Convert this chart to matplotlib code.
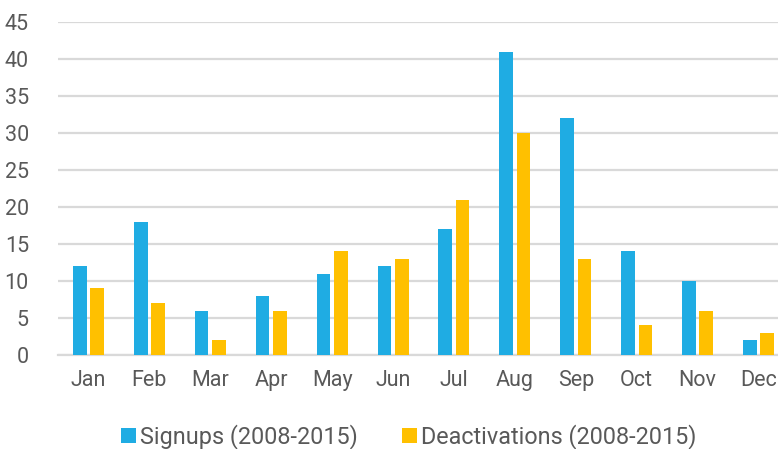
import matplotlib
matplotlib.use("Agg")
import matplotlib.pyplot as plt
import numpy as np

months = ["Jan", "Feb", "Mar", "Apr", "May", "Jun", "Jul", "Aug", "Sep", "Oct", "Nov", "Dec"]
signups = [12, 18, 6, 8, 11, 12, 17, 41, 32, 14, 10, 2]
deactivations = [9, 7, 2, 6, 14, 13, 21, 30, 13, 4, 6, 3]
yticks = [0, 5, 10, 15, 20, 25, 30, 35, 40, 45]

blue = "#1FACE3"
gold = "#FFC000"
text_col = "#595959"
grid_col = "#D9D9D9"

plt.rcParams["font.family"] = ["Roboto", "DejaVu Sans"]

fig = plt.figure(figsize=(7.78, 4.49), dpi=100)
ax = fig.add_axes([58 / 778, 94 / 449, (789 - 58) / 778, (355 - 22) / 449])

x = np.arange(len(months))
w = 0.225
gap = 0.03
ax.bar(x - w / 2 - gap, signups, width=w, color=blue, label="Signups (2008-2015)", zorder=3)
ax.bar(x + w / 2 + gap, deactivations, width=w, color=gold, label="Deactivations (2008-2015)", zorder=3)

ax.set_xlim(-0.5, len(months) - 0.5)
ax.set_ylim(0, 45)
ax.set_yticks(yticks)
ax.set_xticks(x)
ax.set_xticklabels(months)
ax.yaxis.grid(True, color=grid_col, linewidth=1.6, zorder=0)
ax.set_axisbelow(True)
for s in ["top", "right", "left"]:
    ax.spines[s].set_visible(False)
ax.spines["bottom"].set_color(grid_col)
ax.spines["bottom"].set_linewidth(1.6)
ax.tick_params(axis="both", length=0, labelsize=15.5, colors=text_col)
ax.tick_params(axis="y", pad=21)
ax.tick_params(axis="x", pad=11)

leg = fig.legend(loc="center", bbox_to_anchor=(409 / 778, 1 - 437 / 449), ncol=2,
                 frameon=False, fontsize=16.8, handlelength=0.62, handleheight=0.62,
                 handletextpad=0.2, columnspacing=1.9)
for t in leg.get_texts():
    t.set_color(text_col)

fig.savefig("out.png", dpi=100)
